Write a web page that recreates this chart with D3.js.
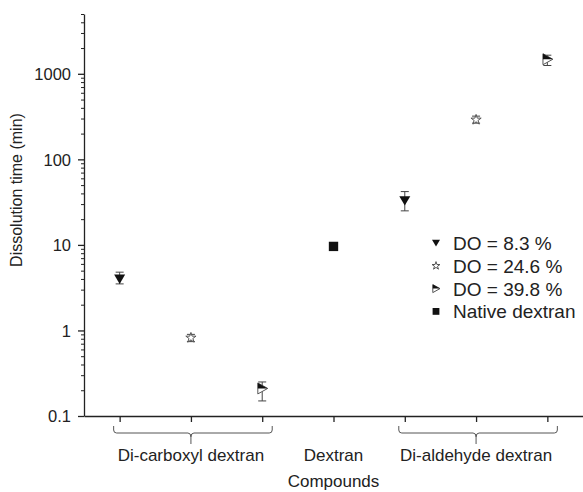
<!DOCTYPE html>
<html>
<head>
<meta charset="utf-8">
<script src="https://cdn.jsdelivr.net/npm/d3@7"></script>
<style>
  body { margin: 0; background: #fff; }
  text { font-family: "Liberation Sans", Arial, sans-serif; fill: #222; }
</style>
</head>
<body>
<div id="container"></div>
<script>
/* DATA */
const positions = [1, 2, 3, 4, 5, 6, 7]
const groups = [
  { label: "Di-carboxyl dextran", from: 1, to: 3 },
  { label: "Dextran", from: 4, to: 4 },
  { label: "Di-aldehyde dextran", from: 5, to: 7 }
]
const seriesNames = ["DO = 8.3 %", "DO = 24.6 %", "DO = 39.8 %", "Native dextran"]
const seriesKeys = ["do83", "do246", "do398", "native"]
// x position, mean, lower, upper
const do83 = [[1, 4.0, 3.5, 4.8], [5, 33, 25, 42]]
const do246 = [[2, 0.82, 0.74, 0.9], [6, 290, 265, 320]]
const do398 = [[3, 0.21, 0.15, 0.25], [7, 1480, 1250, 1650]]
const native = [[4, 9.6, 9.6, 9.6]]
const yTicks = [0.1, 1, 10, 100, 1000]

/* CONSTANTS */
const width = 583, height = 492
const margin = { top: 14, bottom: 76, left: 84, right: 0 }

const svg = d3.select("#container").append("svg")
  .attr("width", width).attr("height", height)

/* SCALES */
const xScale = d3.scaleLinear().domain([0.5, 7.5]).range([margin.left, width - margin.right])
const yScale = d3.scaleLog().domain([0.1, 5000]).range([height - margin.bottom, margin.top])

// y axis with minor log ticks
const minor = yScale.ticks().filter(t => !yTicks.includes(+t.toPrecision(6)))
svg.append("g")
  .attr("transform", `translate(${margin.left},0)`)
  .call(d3.axisLeft(yScale).tickValues(minor).tickSize(3).tickFormat(""))
  .call(g => g.select(".domain").remove())
svg.append("g")
  .attr("transform", `translate(${margin.left},0)`)
  .call(d3.axisLeft(yScale).tickValues(yTicks).tickSize(6).tickSizeOuter(0)
    .tickFormat(d => d >= 1 ? d3.format("d")(d) : d))
  .call(g => g.selectAll("text").attr("font-size", 16.5).attr("x", -13).attr("dy", "0.36em"))
  .call(g => g.selectAll("line,path").attr("stroke", "#222").attr("stroke-width", 1.3))
svg.selectAll("g.tick line").attr("stroke", "#222")

// x axis
svg.append("g")
  .attr("transform", `translate(0,${height - margin.bottom})`)
  .call(d3.axisBottom(xScale).tickValues(positions).tickSize(6).tickSizeOuter(0).tickFormat(""))
  .call(g => g.selectAll("line,path").attr("stroke", "#222").attr("stroke-width", 1.3))

// group brackets and labels
const yB = height - margin.bottom
groups.forEach(gr => {
  const cx = (xScale(gr.from) + xScale(gr.to)) / 2
  if (gr.from !== gr.to) {
    const x1 = xScale(gr.from) - 6, x2 = xScale(gr.to) + 10, y0 = yB + 10, y1 = yB + 17, r = 3
    svg.append("path")
      .attr("d", `M${x1},${y0} L${x1},${y1 - r} Q${x1},${y1} ${x1 + r},${y1} L${cx - r},${y1} Q${cx},${y1} ${cx},${y1 + 4} L${cx},${y1 + 11}
        M${cx},${y1 + 4} Q${cx},${y1} ${cx + r},${y1} L${x2 - r},${y1} Q${x2},${y1} ${x2},${y1 - r} L${x2},${y0}`)
      .attr("fill", "none").attr("stroke", "#555").attr("stroke-width", 1)
  }
  svg.append("text")
    .attr("x", cx).attr("y", yB + 45)
    .attr("text-anchor", "middle").attr("font-size", 17)
    .text(gr.label)
})

svg.append("text")
  .attr("x", xScale(4)).attr("y", yB + 71)
  .attr("text-anchor", "middle").attr("font-size", 17)
  .text("Compounds")

svg.append("text")
  .attr("transform", `translate(22,190) rotate(-90)`)
  .attr("text-anchor", "middle").attr("font-size", 16)
  .text("Dissolution time (min)")

/* MARKERS */
function drawMarker(g, key, s) {
  if (key === "do83") {
    g.append("path").attr("d", `M${-s},${-s * 0.8} L${s},${-s * 0.8} L0,${s * 0.9} Z`).attr("fill", "#111")
  } else if (key === "do246") {
    g.append("path").attr("d", d3.symbol(d3.symbolStar, s * s * 1.6)())
      .attr("fill", "#fff").attr("stroke", "#555").attr("stroke-width", 1)
  } else if (key === "do398") {
    g.append("path").attr("d", `M${-s * 0.8},${-s} L${s},0 L${-s * 0.8},${s} Z`)
      .attr("fill", "#fff").attr("stroke", "#555").attr("stroke-width", 1)
    g.append("path").attr("d", `M${-s * 0.8},${-s} L${s},0 L${-s * 0.8},0 Z`).attr("fill", "#111")
  } else {
    g.append("rect").attr("x", -s * 0.85).attr("y", -s * 0.85)
      .attr("width", s * 1.7).attr("height", s * 1.7).attr("fill", "#111")
  }
}

const seriesData = [do83, do246, do398, native]
seriesData.forEach((data, i) => {
  const key = seriesKeys[i]
  data.forEach(d => {
    const x = xScale(d[0])
    if (d[2] !== d[3]) {
      const eg = svg.append("g").attr("stroke", "#444").attr("stroke-width", 1)
      eg.append("line").attr("x1", x).attr("x2", x).attr("y1", yScale(d[2])).attr("y2", yScale(d[3]))
      eg.append("line").attr("x1", x - 4).attr("x2", x + 4).attr("y1", yScale(d[2])).attr("y2", yScale(d[2]))
      eg.append("line").attr("x1", x - 4).attr("x2", x + 4).attr("y1", yScale(d[3])).attr("y2", yScale(d[3]))
    }
    const g = svg.append("g").attr("transform", `translate(${x},${yScale(d[1])})`)
    drawMarker(g, key, key === "do246" ? 4.5 : 5.5)
  })
})

/* LEGEND */
const legend = svg.append("g").attr("transform", "translate(436,243)")
seriesNames.forEach((name, i) => {
  const row = legend.append("g").attr("transform", `translate(0,${i * 22.8})`)
  drawMarker(row, seriesKeys[i], seriesKeys[i] === "do246" ? 3.5 : 4)
  row.append("text").attr("x", 17).attr("y", 7).attr("font-size", 19).text(name)
})
</script>
</body>
</html>
